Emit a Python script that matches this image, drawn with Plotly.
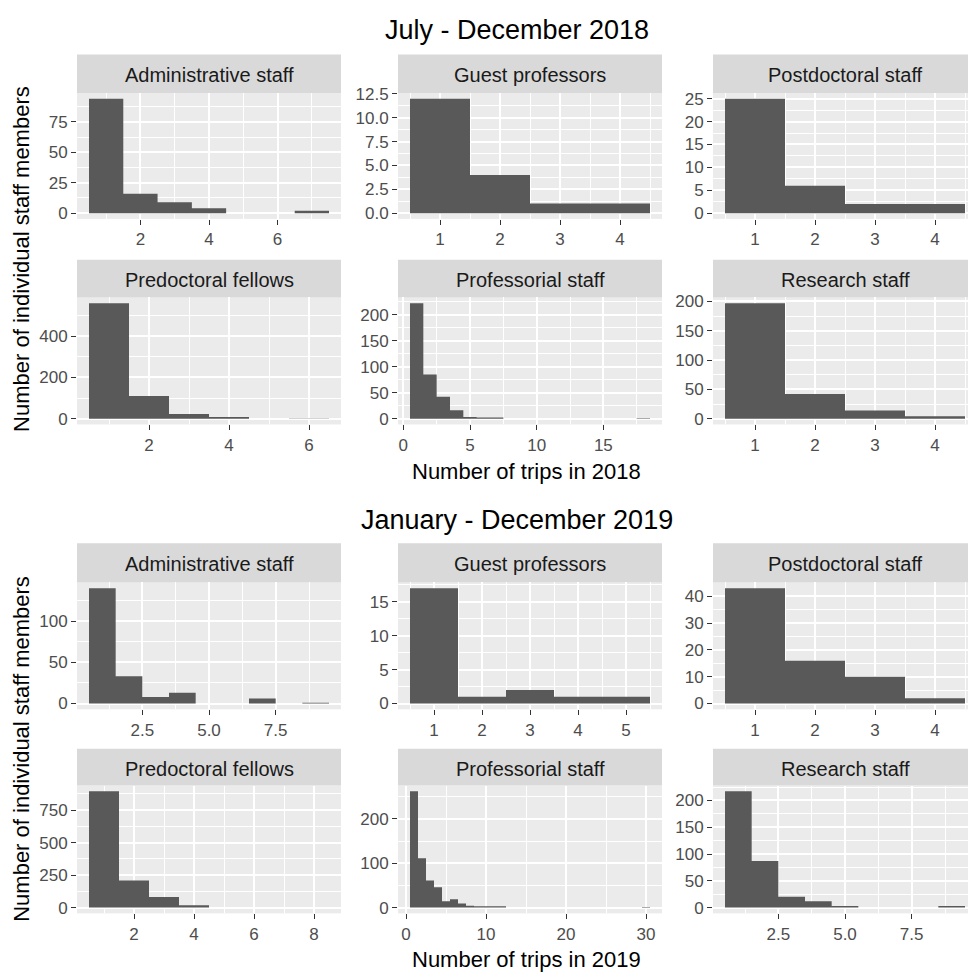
import plotly.graph_objects as go

W, H = 968, 979

# ---------------- data: staff members per number of trips (bin = 1 trip) ----------------
groups = ["Administrative staff", "Guest professors", "Postdoctoral staff",
          "Predoctoral fellows", "Professorial staff", "Research staff"]

# July - December 2018 (index 0 -> 1 trip, index 1 -> 2 trips, ...)
admin_2018 = [94, 16, 9, 4, 0, 0, 2]
guest_2018 = [12, 4, 1, 1]
postdoc_2018 = [25, 6, 2, 2]
predoc_2018 = [560, 110, 22, 8, 0, 1]
prof_2018 = [222, 85, 42, 16, 3, 2, 2, 0, 0, 0, 0, 0, 0, 0, 0, 0, 0, 1]
research_2018 = [197, 42, 14, 4]

# January - December 2019
admin_2019 = [140, 33, 8, 13, 0, 0, 6, 0, 1]
guest_2019 = [17, 1, 2, 1, 1]
postdoc_2019 = [43, 16, 10, 2]
predoc_2019 = [895, 209, 82, 18, 0, 0, 0, 1]
prof_2019 = [262, 111, 61, 46, 14, 19, 9, 4, 3, 3, 3, 3,
             0, 0, 0, 0, 0, 0, 0, 0, 0, 0, 0, 0, 0, 0, 0, 0, 0, 1]
research_2019 = [217, 87, 20, 12, 3, 0, 0, 0, 3]

# axis breaks
xticks_2018 = [[2, 4, 6], [1, 2, 3, 4], [1, 2, 3, 4],
               [2, 4, 6], [0, 5, 10, 15], [1, 2, 3, 4]]
yticks_2018 = [[0, 25, 50, 75], [0, 2.5, 5, 7.5, 10, 12.5], [0, 5, 10, 15, 20, 25],
               [0, 200, 400], [0, 50, 100, 150, 200], [0, 50, 100, 150, 200]]
ylabels_2018 = [None, ["0.0", "2.5", "5.0", "7.5", "10.0", "12.5"], None,
                None, None, None]

xticks_2019 = [[2.5, 5, 7.5], [1, 2, 3, 4, 5], [1, 2, 3, 4],
               [2, 4, 6, 8], [0, 10, 20, 30], [2.5, 5, 7.5]]
xlabels_2019 = [["2.5", "5.0", "7.5"], None, None, None, None, ["2.5", "5.0", "7.5"]]
yticks_2019 = [[0, 50, 100], [0, 5, 10, 15], [0, 10, 20, 30, 40],
               [0, 250, 500, 750], [0, 100, 200], [0, 50, 100, 150, 200]]

titles = ["July - December 2018", "January - December 2019"]
x_titles = ["Number of trips in 2018", "Number of trips in 2019"]
y_title = "Number of individual staff members"

blocks = [
    dict(counts=[admin_2018, guest_2018, postdoc_2018, predoc_2018, prof_2018, research_2018],
         xt=xticks_2018, xl=[None] * 6, yt=yticks_2018, yl=ylabels_2018),
    dict(counts=[admin_2019, guest_2019, postdoc_2019, predoc_2019, prof_2019, research_2019],
         xt=xticks_2019, xl=xlabels_2019, yt=yticks_2019, yl=[None] * 6),
]

# ---------------- layout geometry (pixels) ----------------
COLS = [(77, 341), (398, 662), (713, 977)]          # panel left/right edges
ROWS = [[(47, 86, 213.5), (255, 293, 421.6)],        # strip top, panel top, panel bottom
        [(542, 581.6, 710), (750, 787.2, 916.6)]]
TITLE_Y = [22, 518]
XTITLE_Y = [469, 963]
YTITLE_Y = [254, 750]

FONT = "Liberation Sans, Arial, sans-serif"
BAR = "#595959"
PANEL_BG = "#EBEBEB"
STRIP_BG = "#D9D9D9"


def px_x(p):
    return p / W


def px_y(p):
    return 1 - p / H


def minor_between(major, lo, hi):
    step = major[1] - major[0]
    cands = [major[0] - step / 2] + [m + step / 2 for m in major]
    return [c for c in cands if lo <= c <= hi]


def histogram_outline(counts):
    """Step outlines of unit-width bins centred on 1..n; one closed shape per
    run of non-empty bins, runs separated by None."""
    xs, ys = [], []
    run_open = False
    for t, cnt in enumerate(counts, start=1):
        if cnt > 0:
            if not run_open:
                xs.append(t - 0.5)
                ys.append(0)
                run_open = True
            xs += [t - 0.5, t + 0.5]
            ys += [cnt, cnt]
        elif run_open:
            xs += [t - 0.5, None]
            ys += [0, None]
            run_open = False
    if run_open:
        xs.append(len(counts) + 0.5)
        ys.append(0)
    return xs, ys


fig = go.Figure()
shapes, annotations = [], []
layout_axes = {}

k = 0
for b, block in enumerate(blocks):
    for i, counts in enumerate(block["counts"]):
        k += 1
        r, c = divmod(i, 3)
        strip_top, ptop, pbot = ROWS[b][r]
        left, right = COLS[c]

        n = len(counts)
        # 5% expansion of the data range on each side
        x_lo, x_hi = 0.5, n + 0.5
        span = x_hi - x_lo
        xr = [x_lo - 0.05 * span, x_hi + 0.05 * span]
        ymax = max(counts)
        yr = [-0.05 * ymax, 1.05 * ymax]

        # clip panels that run past the page edge, keeping the same scale
        vis_right = min(right, W)
        xr_vis = [xr[0], xr[0] + (xr[1] - xr[0]) * (vis_right - left) / (right - left)]

        xa = "x" if k == 1 else f"x{k}"
        ya = "y" if k == 1 else f"y{k}"
        hx, hy = histogram_outline(counts)
        fig.add_trace(go.Scatter(x=hx, y=hy, xaxis=xa, yaxis=ya, mode="lines",
                                 line=dict(width=0, color=BAR), fill="toself",
                                 fillcolor=BAR, showlegend=False, hoverinfo="skip"))

        xt = block["xt"][i]
        yt = block["yt"][i]
        xl = block["xl"][i] or [str(v) for v in xt]
        yl = block["yl"][i] or [str(v) for v in yt]

        common = dict(showline=False, zeroline=False, ticks="outside", ticklen=5,
                      tickwidth=1.1, tickcolor="#333333", showgrid=True,
                      gridcolor="white", gridwidth=2,
                      tickfont=dict(family=FONT, size=17, color="#4D4D4D"),
                      fixedrange=True)
        layout_axes[f"xaxis{k if k > 1 else ''}"] = dict(
            common, domain=[px_x(left), px_x(vis_right)], range=xr_vis,
            anchor=ya, tickmode="array", tickvals=xt, ticktext=xl,
            minor=dict(tickmode="array", tickvals=minor_between(xt, *xr),
                       showgrid=True, gridcolor="white", gridwidth=1, ticks=""))
        layout_axes[f"yaxis{k if k > 1 else ''}"] = dict(
            common, domain=[px_y(pbot), px_y(ptop)], range=yr,
            anchor=xa, tickmode="array", tickvals=yt, ticktext=yl,
            minor=dict(tickmode="array", tickvals=minor_between(yt, *yr),
                       showgrid=True, gridcolor="white", gridwidth=1, ticks=""))

        # facet strip
        shapes.append(dict(type="rect", xref="paper", yref="paper",
                           x0=px_x(left), x1=px_x(vis_right),
                           y0=px_y(ptop), y1=px_y(strip_top),
                           fillcolor=STRIP_BG, line=dict(width=0), layer="below"))
        annotations.append(dict(text=groups[i], xref="paper", yref="paper",
                                x=px_x((left + right) / 2),
                                y=px_y((strip_top + ptop) / 2 + 1.5),
                                showarrow=False, xanchor="center", yanchor="middle",
                                font=dict(family=FONT, size=20, color="#1A1A1A")))

    # block title and axis titles
    annotations.append(dict(text=titles[b], xref="paper", yref="paper",
                            x=px_x(517), y=px_y(TITLE_Y[b]), showarrow=False,
                            xanchor="center", yanchor="middle",
                            font=dict(family=FONT, size=27, color="black")))
    annotations.append(dict(text=x_titles[b], xref="paper", yref="paper",
                            x=px_x(526), y=px_y(XTITLE_Y[b]), showarrow=False,
                            xanchor="center", yanchor="middle",
                            font=dict(family=FONT, size=22, color="black")))
    annotations.append(dict(text=y_title, xref="paper", yref="paper",
                            x=px_x(22), y=px_y(YTITLE_Y[b]), showarrow=False,
                            textangle=-90, xanchor="center", yanchor="middle",
                            font=dict(family=FONT, size=22, color="black")))

fig.update_layout(
    width=W, height=H,
    margin=dict(l=0, r=0, t=0, b=0),
    paper_bgcolor="white", plot_bgcolor=PANEL_BG,
    shapes=shapes, annotations=annotations,
    **layout_axes,
)

fig.write_html("out.html")
